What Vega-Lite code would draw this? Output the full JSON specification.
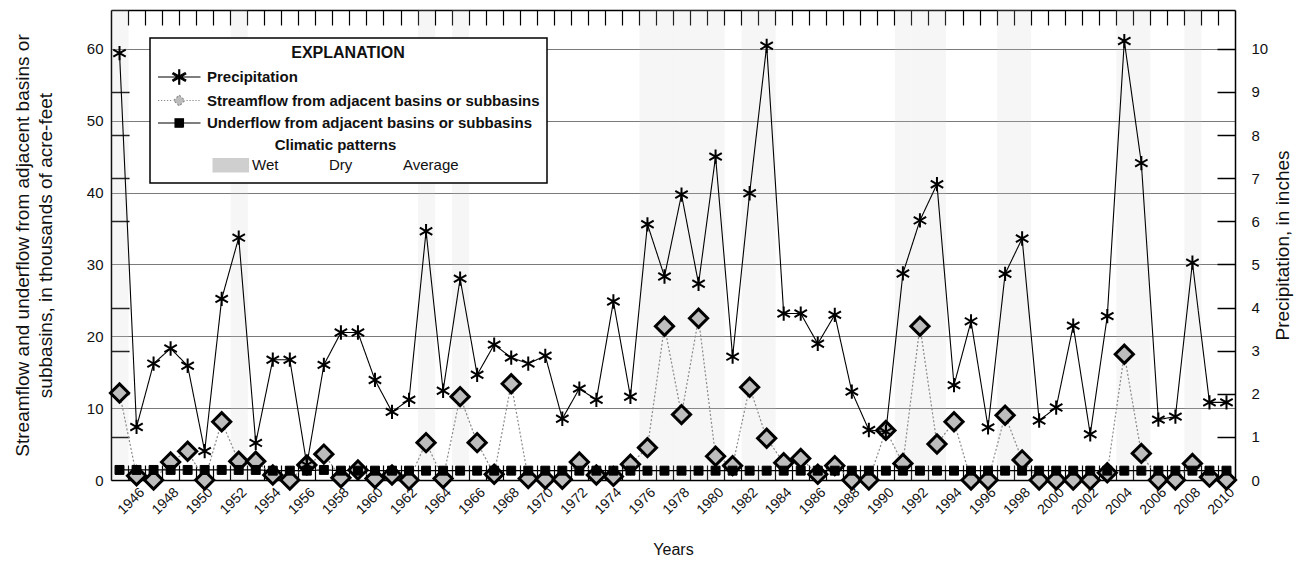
{
  "$schema": "https://vega.github.io/schema/vega-lite/v6.json",
  "width": 1124,
  "height": 470,
  "autosize": {"type": "none"},
  "padding": {"left": 111, "top": 10, "right": 68, "bottom": 83},
  "background": "white",
  "config": {
    "font": "Liberation Sans, Arial, sans-serif",
    "view": {"stroke": null},
    "axis": {"labelColor": "#111", "titleColor": "#111", "tickColor": "black", "domainColor": "black"},
    "legend": {"labelColor": "#111", "titleColor": "#111"}
  },
  "datasets": {
    "climate": [
      {"year": 1945, "pattern": "Wet"}, {"year": 1946, "pattern": "Dry"}, {"year": 1947, "pattern": "Average"}, {"year": 1948, "pattern": "Average"},
      {"year": 1949, "pattern": "Average"}, {"year": 1950, "pattern": "Dry"}, {"year": 1951, "pattern": "Average"}, {"year": 1952, "pattern": "Wet"},
      {"year": 1953, "pattern": "Dry"}, {"year": 1954, "pattern": "Average"}, {"year": 1955, "pattern": "Average"}, {"year": 1956, "pattern": "Dry"},
      {"year": 1957, "pattern": "Average"}, {"year": 1958, "pattern": "Average"}, {"year": 1959, "pattern": "Average"}, {"year": 1960, "pattern": "Dry"},
      {"year": 1961, "pattern": "Dry"}, {"year": 1962, "pattern": "Dry"}, {"year": 1963, "pattern": "Wet"}, {"year": 1964, "pattern": "Dry"},
      {"year": 1965, "pattern": "Wet"}, {"year": 1966, "pattern": "Dry"}, {"year": 1967, "pattern": "Average"}, {"year": 1968, "pattern": "Average"},
      {"year": 1969, "pattern": "Average"}, {"year": 1970, "pattern": "Average"}, {"year": 1971, "pattern": "Dry"}, {"year": 1972, "pattern": "Dry"},
      {"year": 1973, "pattern": "Dry"}, {"year": 1974, "pattern": "Average"}, {"year": 1975, "pattern": "Dry"}, {"year": 1976, "pattern": "Wet"},
      {"year": 1977, "pattern": "Wet"}, {"year": 1978, "pattern": "Wet"}, {"year": 1979, "pattern": "Wet"}, {"year": 1980, "pattern": "Wet"},
      {"year": 1981, "pattern": "Average"}, {"year": 1982, "pattern": "Wet"}, {"year": 1983, "pattern": "Wet"}, {"year": 1984, "pattern": "Average"},
      {"year": 1985, "pattern": "Average"}, {"year": 1986, "pattern": "Average"}, {"year": 1987, "pattern": "Average"}, {"year": 1988, "pattern": "Dry"},
      {"year": 1989, "pattern": "Dry"}, {"year": 1990, "pattern": "Dry"}, {"year": 1991, "pattern": "Wet"}, {"year": 1992, "pattern": "Wet"},
      {"year": 1993, "pattern": "Wet"}, {"year": 1994, "pattern": "Dry"}, {"year": 1995, "pattern": "Average"}, {"year": 1996, "pattern": "Dry"},
      {"year": 1997, "pattern": "Wet"}, {"year": 1998, "pattern": "Wet"}, {"year": 1999, "pattern": "Dry"}, {"year": 2000, "pattern": "Dry"},
      {"year": 2001, "pattern": "Average"}, {"year": 2002, "pattern": "Dry"}, {"year": 2003, "pattern": "Average"}, {"year": 2004, "pattern": "Wet"},
      {"year": 2005, "pattern": "Wet"}, {"year": 2006, "pattern": "Dry"}, {"year": 2007, "pattern": "Dry"}, {"year": 2008, "pattern": "Wet"},
      {"year": 2009, "pattern": "Dry"}, {"year": 2010, "pattern": "Dry"}
    ],
    "precip": [
      {"year": 1945, "series": "Precipitation", "value": 9.9}, {"year": 1946, "series": "Precipitation", "value": 1.23},
      {"year": 1947, "series": "Precipitation", "value": 2.7}, {"year": 1948, "series": "Precipitation", "value": 3.05},
      {"year": 1949, "series": "Precipitation", "value": 2.65}, {"year": 1950, "series": "Precipitation", "value": 0.67},
      {"year": 1951, "series": "Precipitation", "value": 4.2}, {"year": 1952, "series": "Precipitation", "value": 5.62},
      {"year": 1953, "series": "Precipitation", "value": 0.86}, {"year": 1954, "series": "Precipitation", "value": 2.79},
      {"year": 1955, "series": "Precipitation", "value": 2.79}, {"year": 1956, "series": "Precipitation", "value": 0.35},
      {"year": 1957, "series": "Precipitation", "value": 2.67}, {"year": 1958, "series": "Precipitation", "value": 3.42},
      {"year": 1959, "series": "Precipitation", "value": 3.42}, {"year": 1960, "series": "Precipitation", "value": 2.32},
      {"year": 1961, "series": "Precipitation", "value": 1.58}, {"year": 1962, "series": "Precipitation", "value": 1.86},
      {"year": 1963, "series": "Precipitation", "value": 5.77}, {"year": 1964, "series": "Precipitation", "value": 2.07},
      {"year": 1965, "series": "Precipitation", "value": 4.67}, {"year": 1966, "series": "Precipitation", "value": 2.44},
      {"year": 1967, "series": "Precipitation", "value": 3.14}, {"year": 1968, "series": "Precipitation", "value": 2.84},
      {"year": 1969, "series": "Precipitation", "value": 2.7}, {"year": 1970, "series": "Precipitation", "value": 2.88},
      {"year": 1971, "series": "Precipitation", "value": 1.42}, {"year": 1972, "series": "Precipitation", "value": 2.12},
      {"year": 1973, "series": "Precipitation", "value": 1.86}, {"year": 1974, "series": "Precipitation", "value": 4.14},
      {"year": 1975, "series": "Precipitation", "value": 1.93}, {"year": 1976, "series": "Precipitation", "value": 5.93},
      {"year": 1977, "series": "Precipitation", "value": 4.72}, {"year": 1978, "series": "Precipitation", "value": 6.62},
      {"year": 1979, "series": "Precipitation", "value": 4.55}, {"year": 1980, "series": "Precipitation", "value": 7.5},
      {"year": 1981, "series": "Precipitation", "value": 2.86}, {"year": 1982, "series": "Precipitation", "value": 6.65},
      {"year": 1983, "series": "Precipitation", "value": 10.07}, {"year": 1984, "series": "Precipitation", "value": 3.86},
      {"year": 1985, "series": "Precipitation", "value": 3.86}, {"year": 1986, "series": "Precipitation", "value": 3.16},
      {"year": 1987, "series": "Precipitation", "value": 3.83}, {"year": 1988, "series": "Precipitation", "value": 2.05},
      {"year": 1989, "series": "Precipitation", "value": 1.16}, {"year": 1990, "series": "Precipitation", "value": 1.12},
      {"year": 1991, "series": "Precipitation", "value": 4.79}, {"year": 1992, "series": "Precipitation", "value": 6.02},
      {"year": 1993, "series": "Precipitation", "value": 6.86}, {"year": 1994, "series": "Precipitation", "value": 2.2},
      {"year": 1995, "series": "Precipitation", "value": 3.68}, {"year": 1996, "series": "Precipitation", "value": 1.22},
      {"year": 1997, "series": "Precipitation", "value": 4.78}, {"year": 1998, "series": "Precipitation", "value": 5.6},
      {"year": 1999, "series": "Precipitation", "value": 1.38}, {"year": 2000, "series": "Precipitation", "value": 1.68},
      {"year": 2001, "series": "Precipitation", "value": 3.58}, {"year": 2002, "series": "Precipitation", "value": 1.06},
      {"year": 2003, "series": "Precipitation", "value": 3.8}, {"year": 2004, "series": "Precipitation", "value": 10.18},
      {"year": 2005, "series": "Precipitation", "value": 7.35}, {"year": 2006, "series": "Precipitation", "value": 1.4},
      {"year": 2007, "series": "Precipitation", "value": 1.47}, {"year": 2008, "series": "Precipitation", "value": 5.04},
      {"year": 2009, "series": "Precipitation", "value": 1.8}, {"year": 2010, "series": "Precipitation", "value": 1.8}
    ],
    "flow": [
      {"year": 1945, "series": "Streamflow from adjacent basins or subbasins", "value": 12.1},
      {"year": 1946, "series": "Streamflow from adjacent basins or subbasins", "value": 0.6},
      {"year": 1947, "series": "Streamflow from adjacent basins or subbasins", "value": 0},
      {"year": 1948, "series": "Streamflow from adjacent basins or subbasins", "value": 2.5},
      {"year": 1949, "series": "Streamflow from adjacent basins or subbasins", "value": 4.0},
      {"year": 1950, "series": "Streamflow from adjacent basins or subbasins", "value": 0},
      {"year": 1951, "series": "Streamflow from adjacent basins or subbasins", "value": 8.1},
      {"year": 1952, "series": "Streamflow from adjacent basins or subbasins", "value": 2.6},
      {"year": 1953, "series": "Streamflow from adjacent basins or subbasins", "value": 2.6},
      {"year": 1954, "series": "Streamflow from adjacent basins or subbasins", "value": 0.7},
      {"year": 1955, "series": "Streamflow from adjacent basins or subbasins", "value": 0},
      {"year": 1956, "series": "Streamflow from adjacent basins or subbasins", "value": 2.1},
      {"year": 1957, "series": "Streamflow from adjacent basins or subbasins", "value": 3.6},
      {"year": 1958, "series": "Streamflow from adjacent basins or subbasins", "value": 0.3},
      {"year": 1959, "series": "Streamflow from adjacent basins or subbasins", "value": 1.4},
      {"year": 1960, "series": "Streamflow from adjacent basins or subbasins", "value": 0.2},
      {"year": 1961, "series": "Streamflow from adjacent basins or subbasins", "value": 0.7},
      {"year": 1962, "series": "Streamflow from adjacent basins or subbasins", "value": 0},
      {"year": 1963, "series": "Streamflow from adjacent basins or subbasins", "value": 5.2},
      {"year": 1964, "series": "Streamflow from adjacent basins or subbasins", "value": 0.2},
      {"year": 1965, "series": "Streamflow from adjacent basins or subbasins", "value": 11.6},
      {"year": 1966, "series": "Streamflow from adjacent basins or subbasins", "value": 5.2},
      {"year": 1967, "series": "Streamflow from adjacent basins or subbasins", "value": 0.8},
      {"year": 1968, "series": "Streamflow from adjacent basins or subbasins", "value": 13.4},
      {"year": 1969, "series": "Streamflow from adjacent basins or subbasins", "value": 0.2},
      {"year": 1970, "series": "Streamflow from adjacent basins or subbasins", "value": 0.1},
      {"year": 1971, "series": "Streamflow from adjacent basins or subbasins", "value": 0.1},
      {"year": 1972, "series": "Streamflow from adjacent basins or subbasins", "value": 2.5},
      {"year": 1973, "series": "Streamflow from adjacent basins or subbasins", "value": 0.7},
      {"year": 1974, "series": "Streamflow from adjacent basins or subbasins", "value": 0.5},
      {"year": 1975, "series": "Streamflow from adjacent basins or subbasins", "value": 2.2},
      {"year": 1976, "series": "Streamflow from adjacent basins or subbasins", "value": 4.5},
      {"year": 1977, "series": "Streamflow from adjacent basins or subbasins", "value": 21.4},
      {"year": 1978, "series": "Streamflow from adjacent basins or subbasins", "value": 9.1},
      {"year": 1979, "series": "Streamflow from adjacent basins or subbasins", "value": 22.5},
      {"year": 1980, "series": "Streamflow from adjacent basins or subbasins", "value": 3.3},
      {"year": 1981, "series": "Streamflow from adjacent basins or subbasins", "value": 2.0},
      {"year": 1982, "series": "Streamflow from adjacent basins or subbasins", "value": 12.9},
      {"year": 1983, "series": "Streamflow from adjacent basins or subbasins", "value": 5.8},
      {"year": 1984, "series": "Streamflow from adjacent basins or subbasins", "value": 2.4},
      {"year": 1985, "series": "Streamflow from adjacent basins or subbasins", "value": 3.0},
      {"year": 1986, "series": "Streamflow from adjacent basins or subbasins", "value": 0.8},
      {"year": 1987, "series": "Streamflow from adjacent basins or subbasins", "value": 2.0},
      {"year": 1988, "series": "Streamflow from adjacent basins or subbasins", "value": 0},
      {"year": 1989, "series": "Streamflow from adjacent basins or subbasins", "value": 0},
      {"year": 1990, "series": "Streamflow from adjacent basins or subbasins", "value": 6.9},
      {"year": 1991, "series": "Streamflow from adjacent basins or subbasins", "value": 2.3},
      {"year": 1992, "series": "Streamflow from adjacent basins or subbasins", "value": 21.4},
      {"year": 1993, "series": "Streamflow from adjacent basins or subbasins", "value": 5.0},
      {"year": 1994, "series": "Streamflow from adjacent basins or subbasins", "value": 8.1},
      {"year": 1995, "series": "Streamflow from adjacent basins or subbasins", "value": 0},
      {"year": 1996, "series": "Streamflow from adjacent basins or subbasins", "value": 0},
      {"year": 1997, "series": "Streamflow from adjacent basins or subbasins", "value": 9.0},
      {"year": 1998, "series": "Streamflow from adjacent basins or subbasins", "value": 2.8},
      {"year": 1999, "series": "Streamflow from adjacent basins or subbasins", "value": 0},
      {"year": 2000, "series": "Streamflow from adjacent basins or subbasins", "value": 0},
      {"year": 2001, "series": "Streamflow from adjacent basins or subbasins", "value": 0},
      {"year": 2002, "series": "Streamflow from adjacent basins or subbasins", "value": 0},
      {"year": 2003, "series": "Streamflow from adjacent basins or subbasins", "value": 1.0},
      {"year": 2004, "series": "Streamflow from adjacent basins or subbasins", "value": 17.5},
      {"year": 2005, "series": "Streamflow from adjacent basins or subbasins", "value": 3.7},
      {"year": 2006, "series": "Streamflow from adjacent basins or subbasins", "value": 0},
      {"year": 2007, "series": "Streamflow from adjacent basins or subbasins", "value": 0},
      {"year": 2008, "series": "Streamflow from adjacent basins or subbasins", "value": 2.3},
      {"year": 2009, "series": "Streamflow from adjacent basins or subbasins", "value": 0.4},
      {"year": 2010, "series": "Streamflow from adjacent basins or subbasins", "value": 0},
      {"year": 1945, "series": "Underflow from adjacent basins or subbasins", "value": 1.4},
      {"year": 1946, "series": "Underflow from adjacent basins or subbasins", "value": 1.4},
      {"year": 1947, "series": "Underflow from adjacent basins or subbasins", "value": 1.4},
      {"year": 1948, "series": "Underflow from adjacent basins or subbasins", "value": 1.4},
      {"year": 1949, "series": "Underflow from adjacent basins or subbasins", "value": 1.4},
      {"year": 1950, "series": "Underflow from adjacent basins or subbasins", "value": 1.4},
      {"year": 1951, "series": "Underflow from adjacent basins or subbasins", "value": 1.4},
      {"year": 1952, "series": "Underflow from adjacent basins or subbasins", "value": 1.4},
      {"year": 1953, "series": "Underflow from adjacent basins or subbasins", "value": 1.4},
      {"year": 1954, "series": "Underflow from adjacent basins or subbasins", "value": 1.3},
      {"year": 1955, "series": "Underflow from adjacent basins or subbasins", "value": 1.3},
      {"year": 1956, "series": "Underflow from adjacent basins or subbasins", "value": 1.3},
      {"year": 1957, "series": "Underflow from adjacent basins or subbasins", "value": 1.4},
      {"year": 1958, "series": "Underflow from adjacent basins or subbasins", "value": 1.3},
      {"year": 1959, "series": "Underflow from adjacent basins or subbasins", "value": 1.3},
      {"year": 1960, "series": "Underflow from adjacent basins or subbasins", "value": 1.3},
      {"year": 1961, "series": "Underflow from adjacent basins or subbasins", "value": 1.3},
      {"year": 1962, "series": "Underflow from adjacent basins or subbasins", "value": 1.3},
      {"year": 1963, "series": "Underflow from adjacent basins or subbasins", "value": 1.3},
      {"year": 1964, "series": "Underflow from adjacent basins or subbasins", "value": 1.3},
      {"year": 1965, "series": "Underflow from adjacent basins or subbasins", "value": 1.3},
      {"year": 1966, "series": "Underflow from adjacent basins or subbasins", "value": 1.3},
      {"year": 1967, "series": "Underflow from adjacent basins or subbasins", "value": 1.3},
      {"year": 1968, "series": "Underflow from adjacent basins or subbasins", "value": 1.3},
      {"year": 1969, "series": "Underflow from adjacent basins or subbasins", "value": 1.3},
      {"year": 1970, "series": "Underflow from adjacent basins or subbasins", "value": 1.3},
      {"year": 1971, "series": "Underflow from adjacent basins or subbasins", "value": 1.3},
      {"year": 1972, "series": "Underflow from adjacent basins or subbasins", "value": 1.3},
      {"year": 1973, "series": "Underflow from adjacent basins or subbasins", "value": 1.3},
      {"year": 1974, "series": "Underflow from adjacent basins or subbasins", "value": 1.3},
      {"year": 1975, "series": "Underflow from adjacent basins or subbasins", "value": 1.3},
      {"year": 1976, "series": "Underflow from adjacent basins or subbasins", "value": 1.3},
      {"year": 1977, "series": "Underflow from adjacent basins or subbasins", "value": 1.3},
      {"year": 1978, "series": "Underflow from adjacent basins or subbasins", "value": 1.3},
      {"year": 1979, "series": "Underflow from adjacent basins or subbasins", "value": 1.3},
      {"year": 1980, "series": "Underflow from adjacent basins or subbasins", "value": 1.3},
      {"year": 1981, "series": "Underflow from adjacent basins or subbasins", "value": 1.3},
      {"year": 1982, "series": "Underflow from adjacent basins or subbasins", "value": 1.3},
      {"year": 1983, "series": "Underflow from adjacent basins or subbasins", "value": 1.3},
      {"year": 1984, "series": "Underflow from adjacent basins or subbasins", "value": 1.3},
      {"year": 1985, "series": "Underflow from adjacent basins or subbasins", "value": 1.3},
      {"year": 1986, "series": "Underflow from adjacent basins or subbasins", "value": 1.3},
      {"year": 1987, "series": "Underflow from adjacent basins or subbasins", "value": 1.3},
      {"year": 1988, "series": "Underflow from adjacent basins or subbasins", "value": 1.3},
      {"year": 1989, "series": "Underflow from adjacent basins or subbasins", "value": 1.3},
      {"year": 1990, "series": "Underflow from adjacent basins or subbasins", "value": 1.3},
      {"year": 1991, "series": "Underflow from adjacent basins or subbasins", "value": 1.3},
      {"year": 1992, "series": "Underflow from adjacent basins or subbasins", "value": 1.3},
      {"year": 1993, "series": "Underflow from adjacent basins or subbasins", "value": 1.3},
      {"year": 1994, "series": "Underflow from adjacent basins or subbasins", "value": 1.3},
      {"year": 1995, "series": "Underflow from adjacent basins or subbasins", "value": 1.3},
      {"year": 1996, "series": "Underflow from adjacent basins or subbasins", "value": 1.3},
      {"year": 1997, "series": "Underflow from adjacent basins or subbasins", "value": 1.3},
      {"year": 1998, "series": "Underflow from adjacent basins or subbasins", "value": 1.3},
      {"year": 1999, "series": "Underflow from adjacent basins or subbasins", "value": 1.3},
      {"year": 2000, "series": "Underflow from adjacent basins or subbasins", "value": 1.3},
      {"year": 2001, "series": "Underflow from adjacent basins or subbasins", "value": 1.3},
      {"year": 2002, "series": "Underflow from adjacent basins or subbasins", "value": 1.3},
      {"year": 2003, "series": "Underflow from adjacent basins or subbasins", "value": 1.3},
      {"year": 2004, "series": "Underflow from adjacent basins or subbasins", "value": 1.3},
      {"year": 2005, "series": "Underflow from adjacent basins or subbasins", "value": 1.3},
      {"year": 2006, "series": "Underflow from adjacent basins or subbasins", "value": 1.3},
      {"year": 2007, "series": "Underflow from adjacent basins or subbasins", "value": 1.3},
      {"year": 2008, "series": "Underflow from adjacent basins or subbasins", "value": 1.3},
      {"year": 2009, "series": "Underflow from adjacent basins or subbasins", "value": 1.3},
      {"year": 2010, "series": "Underflow from adjacent basins or subbasins", "value": 1.3}
    ]
  },
  "layer": [
    {
      "data": {"name": "climate"},
      "mark": {"type": "rect", "fillOpacity": 0.18},
      "encoding": {
        "x": {"field": "year", "type": "quantitative", "bin": {"step": 1, "anchor": 1944.5, "extent": [1944.5, 2010.5]}, "scale": {"domain": [1944.5, 2010.5]}, "axis": null},
        "color": {
          "field": "pattern", "type": "nominal",
          "scale": {"domain": ["Wet", "Dry", "Average"], "range": ["#cfcfcf", "transparent", "transparent"]},
          "legend": {
            "orient": "none", "legendX": 101.5, "legendY": 128, "title": "Climatic patterns",
            "titleAnchor": "middle", "titleFontSize": 15, "titleFontWeight": "bold", "titlePadding": 3.5,
            "direction": "horizontal", "symbolType": "M-1,-0.85H3.3V0.85H-1Z", "symbolSize": 289,
            "symbolStrokeWidth": 0, "labelFontSize": 15, "labelFontWeight": "normal", "labelOffset": 22.5,
            "columnPadding": 11, "padding": 0, "zindex": 3,
            "encode": {"symbols": {"update": {"fillOpacity": {"value": 1}, "opacity": {"value": 1}, "strokeWidth": {"value": 0}}}}
          }
        }
      }
    },
    {
      "data": {"name": "flow"},
      "mark": {"type": "line", "strokeWidth": 1.2},
      "encoding": {
        "x": {
          "field": "year", "type": "quantitative", "scale": {"domain": [1944.5, 2010.5]},
          "axis": {
            "orient": "bottom",
            "values": [1945.5,1946.5,1947.5,1948.5,1949.5,1950.5,1951.5,1952.5,1953.5,1954.5,1955.5,1956.5,1957.5,1958.5,1959.5,1960.5,1961.5,1962.5,1963.5,1964.5,1965.5,1966.5,1967.5,1968.5,1969.5,1970.5,1971.5,1972.5,1973.5,1974.5,1975.5,1976.5,1977.5,1978.5,1979.5,1980.5,1981.5,1982.5,1983.5,1984.5,1985.5,1986.5,1987.5,1988.5,1989.5,1990.5,1991.5,1992.5,1993.5,1994.5,1995.5,1996.5,1997.5,1998.5,1999.5,2000.5,2001.5,2002.5,2003.5,2004.5,2005.5,2006.5,2007.5,2008.5,2009.5],
            "tickSize": -15, "tickWidth": 1.2, "tickColor": "black",
            "labelExpr": "(datum.value + 0.5) % 2 == 0 ? format(datum.value + 0.5, 'd') : ''",
            "labelAngle": -45, "labelAlign": "right", "labelBaseline": "middle",
            "labelOffset": 14, "labelPadding": 25, "labelFontSize": 14,
            "labelOverlap": false, "labelFlush": false, "labelBound": false,
            "domainColor": "black", "domainWidth": 1.5, "grid": false,
            "title": "Years", "titleFontSize": 16, "titleFontWeight": "normal", "titlePadding": 25
          }
        },
        "y": {
          "field": "value", "type": "quantitative", "scale": {"domain": [0, 65.4]},
          "axis": {
            "orient": "left", "values": [0, 10, 20, 30, 40, 50, 60], "tickSize": 0, "labelPadding": 8,
            "labelFontSize": 15, "domainColor": "black", "domainWidth": 1.5,
            "grid": true, "gridColor": "#7a7a7a", "gridWidth": 1,
            "title": ["Streamflow and underflow from adjacent basins or", "subbasins, in thousands of acre-feet"],
            "titleFontSize": 19, "titleFontWeight": "normal", "titlePadding": 31, "titleLineHeight": 23
          }
        },
        "stroke": {
          "field": "series", "type": "nominal",
          "scale": {
            "domain": ["Precipitation", "Streamflow from adjacent basins or subbasins", "Underflow from adjacent basins or subbasins", "b1", "b2"],
            "range": ["black", "#8a8a8a", "black", "transparent", "transparent"]
          },
          "legend": {
            "orient": "none", "legendX": 39, "legendY": 28, "title": "EXPLANATION",
            "titleFontSize": 16, "titleFontWeight": "bold", "titleAnchor": "middle", "titlePadding": 6.5,
            "symbolSize": 289, "symbolStrokeWidth": 1.1,
            "labelFontSize": 15, "labelFontWeight": "bold", "labelOffset": 31, "labelLimit": 600,
            "labelExpr": "datum.value == 'b1' || datum.value == 'b2' ? '\u00a0' : datum.label",
            "rowPadding": 4.5, "padding": 7, "strokeColor": "black", "fillColor": "white", "zindex": 1,
            "encode": {
              "legend": {"update": {"strokeWidth": {"value": 1.5}}},
              "symbols": {"update": {
                "shape": {"signal": "datum.value == 'Precipitation' ? 'M-1,0H4M1.44,-0.85H1.56V0.85H1.44ZM0.71,-0.34L2.19,0.51L2.29,0.34L0.81,-0.51ZM0.81,0.51L2.29,-0.34L2.19,-0.51L0.71,0.34Z' : datum.value == 'Streamflow from adjacent basins or subbasins' ? 'M-1,0h0.15M-0.65,0h0.15M-0.3,0h0.15M0.05,0h0.15M0.4,0h0.15M2.35,0h0.15M2.7,0h0.15M3.05,0h0.15M3.4,0h0.15M3.75,0h0.15M0.85,0L1.5,-0.65L2.15,0L1.5,0.65Z' : 'M-1,0H4M1,-0.5H2V0.5H1Z'"},
                "fill": {"signal": "datum.value == 'Streamflow from adjacent basins or subbasins' ? '#bdbdbd' : (datum.value == 'b1' || datum.value == 'b2') ? 'transparent' : 'black'"},
                "stroke": {"signal": "(datum.value == 'b1' || datum.value == 'b2') ? 'transparent' : datum.value == 'Streamflow from adjacent basins or subbasins' ? '#333333' : 'black'"},
                "strokeDash": {"value": [1, 0]},
                "strokeWidth": {"value": 1.1},
                "size": {"value": 289},
                "opacity": {"value": 1}
              }}
            }
          }
        },
        "strokeDash": {
          "field": "series", "type": "nominal",
          "scale": {
            "domain": ["Precipitation", "Streamflow from adjacent basins or subbasins", "Underflow from adjacent basins or subbasins", "b1", "b2"],
            "range": [[1, 0], [2, 2], [1, 0], [1, 0], [1, 0]]
          }
        }
      }
    },
    {
      "data": {"name": "flow"},
      "mark": {"type": "point", "filled": true, "stroke": "black", "opacity": 1},
      "encoding": {
        "x": {
          "field": "year", "type": "quantitative", "scale": {"domain": [1944.5, 2010.5]},
          "axis": {
            "orient": "top",
            "values": [1945.5,1946.5,1947.5,1948.5,1949.5,1950.5,1951.5,1952.5,1953.5,1954.5,1955.5,1956.5,1957.5,1958.5,1959.5,1960.5,1961.5,1962.5,1963.5,1964.5,1965.5,1966.5,1967.5,1968.5,1969.5,1970.5,1971.5,1972.5,1973.5,1974.5,1975.5,1976.5,1977.5,1978.5,1979.5,1980.5,1981.5,1982.5,1983.5,1984.5,1985.5,1986.5,1987.5,1988.5,1989.5,1990.5,1991.5,1992.5,1993.5,1994.5,1995.5,1996.5,1997.5,1998.5,1999.5,2000.5,2001.5,2002.5,2003.5,2004.5,2005.5,2006.5,2007.5,2008.5,2009.5],
            "tickSize": -15, "tickWidth": 1.2, "tickColor": "black", "labels": false,
            "domainColor": "black", "domainWidth": 1.5, "grid": false, "title": null
          }
        },
        "y": {
          "field": "value", "type": "quantitative", "scale": {"domain": [0, 65.4]},
          "axis": {
            "orient": "left", "values": [6, 12, 18, 24, 36, 42, 48, 54], "tickSize": -18, "tickWidth": 1.5,
            "tickColor": "black", "labels": false, "domain": false, "grid": false, "title": null
          }
        },
        "shape": {
          "field": "series", "type": "nominal",
          "scale": {
            "domain": ["Underflow from adjacent basins or subbasins", "Precipitation", "Streamflow from adjacent basins or subbasins"],
            "range": ["square", "M0,-1L0,1M-0.87,-0.5L0.87,0.5M-0.87,0.5L0.87,-0.5", "diamond"]
          },
          "legend": null
        },
        "fill": {
          "field": "series", "type": "nominal",
          "scale": {
            "domain": ["Underflow from adjacent basins or subbasins", "Precipitation", "Streamflow from adjacent basins or subbasins"],
            "range": ["black", "transparent", "#bdbdbd"]
          },
          "legend": null
        },
        "size": {
          "field": "series", "type": "nominal",
          "scale": {
            "domain": ["Underflow from adjacent basins or subbasins", "Precipitation", "Streamflow from adjacent basins or subbasins"],
            "range": [80, 330, 170]
          },
          "legend": null
        },
        "strokeWidth": {
          "field": "series", "type": "nominal",
          "scale": {
            "domain": ["Underflow from adjacent basins or subbasins", "Precipitation", "Streamflow from adjacent basins or subbasins"],
            "range": [1, 3, 1.2]
          },
          "legend": null
        }
      }
    },
    {
      "data": {"name": "precip"},
      "mark": {"type": "line", "strokeWidth": 1.1},
      "encoding": {
        "x": {"field": "year", "type": "quantitative", "scale": {"domain": [1944.5, 2010.5]}, "axis": null},
        "y": {
          "field": "value", "type": "quantitative", "scale": {"domain": [0, 10.9]},
          "axis": {
            "orient": "right", "values": [0, 1, 2, 3, 4, 5, 6, 7, 8, 9, 10], "tickSize": -18, "tickWidth": 1.5,
            "tickColor": "black", "labelPadding": 34, "labelFontSize": 15, "domainColor": "black", "domainWidth": 1.5,
            "grid": false, "title": "Precipitation, in inches", "titleFontSize": 19, "titleFontWeight": "normal",
            "titleAngle": 270, "titlePadding": 25
          }
        },
        "stroke": {"field": "series", "type": "nominal"},
        "strokeDash": {"field": "series", "type": "nominal"}
      }
    },
    {
      "data": {"name": "precip"},
      "mark": {"type": "point", "filled": true, "stroke": "black", "opacity": 1},
      "encoding": {
        "x": {"field": "year", "type": "quantitative", "scale": {"domain": [1944.5, 2010.5]}, "axis": null},
        "y": {"field": "value", "type": "quantitative", "scale": {"domain": [0, 10.9]}, "axis": null},
        "shape": {"field": "series", "type": "nominal", "legend": null},
        "fill": {"field": "series", "type": "nominal", "legend": null},
        "size": {"field": "series", "type": "nominal", "legend": null},
        "strokeWidth": {"field": "series", "type": "nominal", "legend": null}
      }
    }
  ],
  "resolve": {"scale": {"y": "independent"}, "axis": {"x": "independent", "y": "independent"}}
}
